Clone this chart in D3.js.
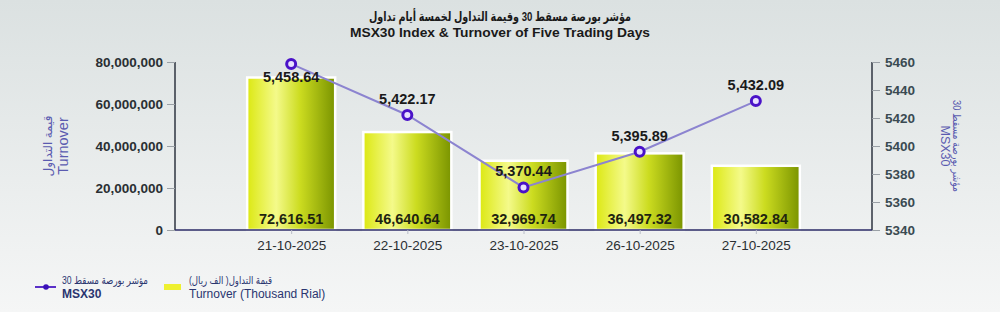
<!DOCTYPE html>
<html>
<head>
<meta charset="utf-8">
<script src="https://cdn.jsdelivr.net/npm/d3@7"></script>
<style>
  html, body { margin: 0; padding: 0; }
  body { width: 1000px; height: 312px; overflow: hidden; }
  svg { display: block; font-family: "Liberation Sans", "DejaVu Sans", Arial, sans-serif; }
</style>
</head>
<body>
<svg id="chart"></svg>
<script>
// values
const dates = ["21-10-2025", "22-10-2025", "23-10-2025", "26-10-2025", "27-10-2025"];
const turnover = [72616.51, 46640.64, 32969.74, 36497.32, 30582.84]; // thousand rial
const msx30 = [5458.64, 5422.17, 5370.44, 5395.89, 5432.09];
const leftTicks = [0, 20000000, 40000000, 60000000, 80000000];
const rightTicks = [5340, 5360, 5380, 5400, 5420, 5440, 5460];

const W = 1000, H = 312;
const plot = { left: 175, right: 872, top: 62, bottom: 230 };

const svg = d3.select("#chart").attr("width", W).attr("height", H);
const defs = svg.append("defs");

// background
const bg = defs.append("linearGradient").attr("id", "bg").attr("x1", 0).attr("y1", 0).attr("x2", 0).attr("y2", 1);
bg.append("stop").attr("offset", "0%").attr("stop-color", "#dbe1e1");
bg.append("stop").attr("offset", "100%").attr("stop-color", "#f5f6f6");
svg.append("rect").attr("width", W).attr("height", H).attr("fill", "url(#bg)");

// bar gradient (yellow -> light -> olive)
const bg2 = defs.append("linearGradient").attr("id", "barGrad").attr("x1", 0).attr("y1", 0).attr("x2", 1).attr("y2", 0);
bg2.append("stop").attr("offset", "0%").attr("stop-color", "#dce812");
bg2.append("stop").attr("offset", "33%").attr("stop-color", "#f4fa8a");
bg2.append("stop").attr("offset", "60%").attr("stop-color", "#ccdc20");
bg2.append("stop").attr("offset", "100%").attr("stop-color", "#7a9400");

// titles
svg.append("text").attr("x", 500).attr("y", 21).attr("text-anchor", "middle")
  .attr("font-size", 13).attr("font-weight", "bold").attr("fill", "#1a1a1a")
  .attr("direction", "rtl")
  .attr("textLength", 262).attr("lengthAdjust", "spacingAndGlyphs")
  .text("مؤشر بورصة مسقط 30 وقيمة التداول لخمسة أيام تداول");
svg.append("text").attr("x", 500).attr("y", 37).attr("text-anchor", "middle")
  .attr("font-size", 13.5).attr("font-weight", "bold").attr("fill", "#1a1a1a")
  .attr("textLength", 300).attr("lengthAdjust", "spacingAndGlyphs")
  .text("MSX30 Index & Turnover of Five Trading Days");

// scales
const x = d3.scalePoint().domain(dates).range([plot.left, plot.right]).padding(1);
const yLeft = d3.scaleLinear().domain([0, 80000000]).range([plot.bottom, plot.top]);
const yRight = d3.scaleLinear().domain([5340, 5460]).range([plot.bottom, plot.top]);

// left axis
const leftAxis = svg.append("g").attr("transform", `translate(${plot.left},0)`)
  .call(d3.axisLeft(yLeft).tickValues(leftTicks).tickSize(8).tickPadding(4).tickFormat(d3.format(",")));
leftAxis.select(".domain").attr("stroke", "#2e3440").attr("stroke-width", 1.5).attr("d", `M0,${plot.top}V${plot.bottom}`);
leftAxis.selectAll(".tick line").attr("stroke", "#9aa0a6");
leftAxis.selectAll(".tick text").attr("font-size", 13.5).attr("font-weight", "bold").attr("fill", "#2a2f33")
  .attr("font-family", "Liberation Sans, Arial, sans-serif");

// right axis
const rightAxis = svg.append("g").attr("transform", `translate(${plot.right},0)`)
  .call(d3.axisRight(yRight).tickValues(rightTicks).tickSize(8).tickPadding(5).tickFormat(d3.format("d")));
rightAxis.select(".domain").attr("stroke", "#2e3440").attr("stroke-width", 1.5).attr("d", `M0,${plot.top}V${plot.bottom}`);
rightAxis.selectAll(".tick line").attr("stroke", "#9aa0a6");
rightAxis.selectAll(".tick text").attr("font-size", 13.5).attr("font-weight", "bold").attr("fill", "#3a4a52")
  .attr("font-family", "Liberation Sans, Arial, sans-serif");

// bars
const barW = 88;
svg.append("g").selectAll("rect").data(dates).join("rect")
  .attr("x", d => x(d) - barW / 2)
  .attr("y", (d, i) => yLeft(turnover[i] * 1000))
  .attr("width", barW)
  .attr("height", (d, i) => plot.bottom - yLeft(turnover[i] * 1000))
  .attr("fill", "url(#barGrad)")
  .attr("stroke", "#ffffff").attr("stroke-width", 2.5);

// bottom axis
const bottomAxis = svg.append("g").attr("transform", `translate(0,${plot.bottom})`)
  .call(d3.axisBottom(x).tickSize(4).tickPadding(6));
bottomAxis.select(".domain").attr("stroke", "#2a2a66").attr("stroke-width", 1.5)
  .attr("d", `M${plot.left},0H${plot.right}`);
bottomAxis.selectAll(".tick line").attr("stroke", "#b8bcc8");
bottomAxis.selectAll(".tick text").attr("font-size", 13.5).attr("fill", "#2a2f33")
  .attr("font-family", "Liberation Sans, Arial, sans-serif");

// bar value labels
svg.append("g").selectAll("text").data(dates).join("text")
  .attr("x", d => x(d)).attr("y", plot.bottom - 6)
  .attr("text-anchor", "middle").attr("font-size", 14.5).attr("font-weight", "bold").attr("fill", "#1e2410")
  .text((d, i) => d3.format(",.2f")(turnover[i]));

// line series
const line = d3.line().x((d, i) => x(dates[i])).y(d => yRight(d));
svg.append("path").attr("d", line(msx30)).attr("fill", "none")
  .attr("stroke", "#8c84d0").attr("stroke-width", 2);

svg.append("g").selectAll("circle").data(msx30).join("circle")
  .attr("cx", (d, i) => x(dates[i])).attr("cy", d => yRight(d)).attr("r", 4.5)
  .attr("fill", "#e8e0ff").attr("stroke", "#4a12c8").attr("stroke-width", 3);

svg.append("g").selectAll("text").data(msx30).join("text")
  .attr("x", (d, i) => x(dates[i]))
  .attr("y", d => {
    const cy = yRight(d);
    return cy - 11 < plot.top + 10 ? cy + 18 : cy - 11;
  })
  .attr("text-anchor", "middle").attr("font-size", 14.5).attr("font-weight", "bold").attr("fill", "#1a1a1a")
  .text(d => d3.format(",.2f")(d));

// axis titles
const leftTitle = svg.append("g").attr("transform", "translate(52,146) rotate(-90)");
leftTitle.append("text").attr("text-anchor", "middle").attr("font-size", 12).attr("fill", "#5b5bb0")
  .attr("direction", "rtl").text("قيمة التداول");
leftTitle.append("text").attr("y", 16).attr("text-anchor", "middle").attr("font-size", 14.5).attr("fill", "#5b5bb0")
  .text("Turnover");

const rightTitle = svg.append("g").attr("transform", "translate(953,146) rotate(90)");
rightTitle.append("text").attr("text-anchor", "middle").attr("font-size", 11).attr("fill", "#5b5bb0")
  .attr("direction", "rtl").attr("textLength", 92).attr("lengthAdjust", "spacingAndGlyphs")
  .text("مؤشر بورصة مسقط 30");
rightTitle.append("text").attr("y", 12).attr("text-anchor", "middle").attr("font-size", 12.5).attr("fill", "#5b5bb0")
  .text("MSX30");

// legend
const legend = svg.append("g");
legend.append("line").attr("x1", 35).attr("x2", 56).attr("y1", 287).attr("y2", 287)
  .attr("stroke", "#5a30c8").attr("stroke-width", 2);
legend.append("circle").attr("cx", 46).attr("cy", 287).attr("r", 2.8).attr("fill", "#3a10b8");
legend.append("text").attr("x", 62).attr("y", 284).attr("font-size", 10.5).attr("fill", "#2a3570")
  .attr("textLength", 86).attr("lengthAdjust", "spacingAndGlyphs")
  .text("مؤشر بورصة مسقط 30");
legend.append("text").attr("x", 62).attr("y", 298).attr("font-size", 12).attr("font-weight", "bold").attr("fill", "#2a3570")
  .text("MSX30");

legend.append("rect").attr("x", 164).attr("y", 284).attr("width", 17).attr("height", 6).attr("fill", "#eef030");
legend.append("text").attr("x", 189).attr("y", 284).attr("font-size", 10.5).attr("fill", "#2a3570")
  .attr("textLength", 83).attr("lengthAdjust", "spacingAndGlyphs")
  .text("قيمة التداول( الف ريال)");
legend.append("text").attr("x", 189).attr("y", 298).attr("font-size", 12).attr("fill", "#2a3570")
  .text("Turnover (Thousand Rial)");
</script>
</body>
</html>
